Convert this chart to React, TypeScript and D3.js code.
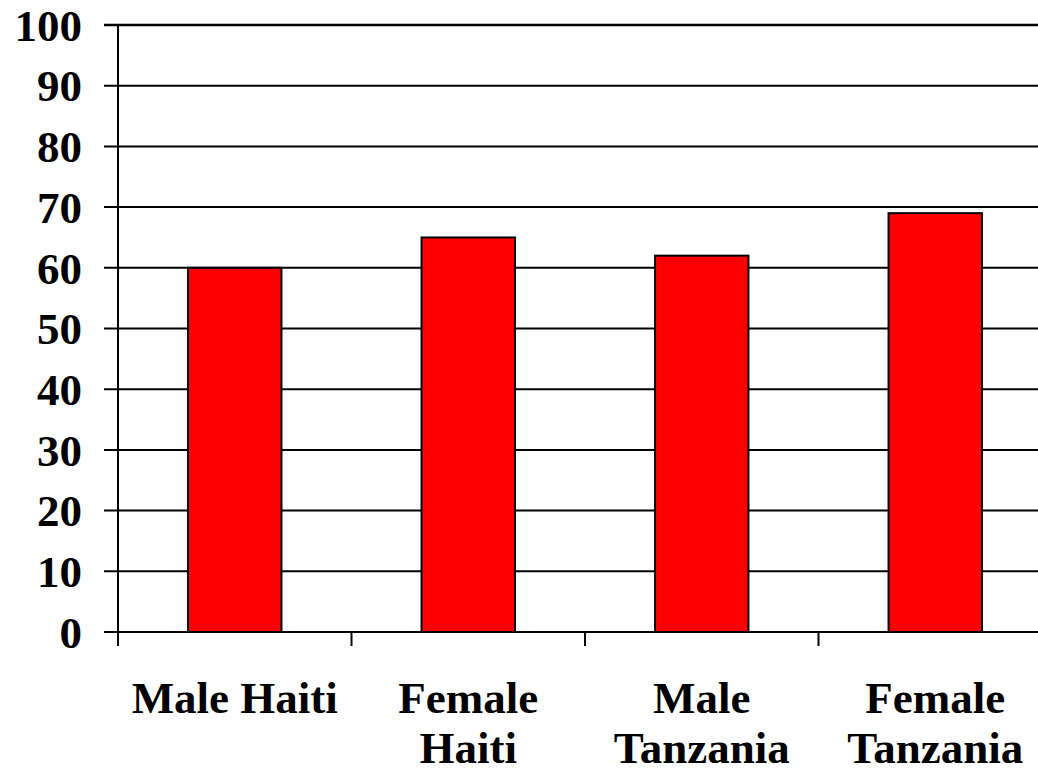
import React, { useRef, useEffect } from 'react'
import * as d3 from 'd3'

const categories = ['Male Haiti', 'Female Haiti', 'Male Tanzania', 'Female Tanzania']
const labelLines = [['Male Haiti'], ['Female', 'Haiti'], ['Male', 'Tanzania'], ['Female', 'Tanzania']]
const values = [60, 65, 62, 69]
const yTicks = [0, 10, 20, 30, 40, 50, 60, 70, 80, 90, 100]

const App: React.FC = () => {
    const svgRef = useRef<SVGSVGElement>(null)

    useEffect(() => {
        const width = 1038
        const height = 771
        // plot runs past the right edge, as in the original
        const margin = { top: 25, bottom: 139, left: 118 }
        const innerWidth = 934
        const innerHeight = height - margin.top - margin.bottom
        const font = '"Liberation Serif", "Times New Roman", serif'

        const svg = d3.select(svgRef.current)
        svg.selectAll('*').remove()
        svg.attr('width', width).attr('height', height)

        const g = svg.append('g').attr('transform', `translate(${margin.left},${margin.top})`)

        const x = d3.scaleBand<string>().domain(categories).range([0, innerWidth]).padding(0)
        const y = d3.scaleLinear().domain([0, 100]).range([innerHeight, 0])

        // gridlines
        g.selectAll('.grid')
            .data(yTicks.filter((d) => d > 0))
            .enter()
            .append('line')
            .attr('x1', -14)
            .attr('x2', innerWidth)
            .attr('y1', (d) => y(d))
            .attr('y2', (d) => y(d))
            .attr('stroke', '#000')
            .attr('stroke-width', (d) => (d === 100 ? 2.5 : 2))

        // bars
        const bw = x.bandwidth() * 0.4
        g.selectAll('.bar')
            .data(values)
            .enter()
            .append('rect')
            .attr('x', (d, i) => x(categories[i])! + (x.bandwidth() - bw) / 2)
            .attr('y', (d) => y(d))
            .attr('width', bw)
            .attr('height', (d) => innerHeight - y(d))
            .attr('fill', '#ff0000')
            .attr('stroke', '#000')
            .attr('stroke-width', 2)

        // y axis
        g.append('line')
            .attr('x1', 0)
            .attr('x2', 0)
            .attr('y1', 0)
            .attr('y2', innerHeight)
            .attr('stroke', '#000')
            .attr('stroke-width', 2)

        // x axis
        g.append('line')
            .attr('x1', -14)
            .attr('x2', innerWidth)
            .attr('y1', innerHeight)
            .attr('y2', innerHeight)
            .attr('stroke', '#000')
            .attr('stroke-width', 2)

        g.selectAll('.xtick')
            .data(categories)
            .enter()
            .append('line')
            .attr('x1', (d) => x(d)!)
            .attr('x2', (d) => x(d)!)
            .attr('y1', innerHeight)
            .attr('y2', innerHeight + 14)
            .attr('stroke', '#000')
            .attr('stroke-width', 2)

        // y labels
        g.selectAll('.ylabel')
            .data(yTicks)
            .enter()
            .append('text')
            .attr('x', -36)
            .attr('y', (d) => y(d))
            .attr('dy', '0.35em')
            .attr('text-anchor', 'end')
            .style('font-family', font)
            .style('font-weight', 'bold')
            .style('font-size', '45px')
            .text((d) => d)

        // x labels
        const xl = g
            .selectAll('.xlabel')
            .data(categories)
            .enter()
            .append('text')
            .attr('text-anchor', 'middle')
            .style('font-family', font)
            .style('font-weight', 'bold')
            .style('font-size', '45px')

        xl.each(function (d, i) {
            const t = d3.select(this)
            labelLines[i].forEach((line, j) => {
                t.append('tspan')
                    .attr('x', x(d)! + x.bandwidth() / 2)
                    .attr('y', innerHeight + 81 + j * 50)
                    .text(line)
            })
        })
    }, [])

    return (
        <div>
            <svg ref={svgRef} style={{ position: 'absolute', left: 0, top: 0, background: '#fff' }} />
        </div>
    )
}

export default App
